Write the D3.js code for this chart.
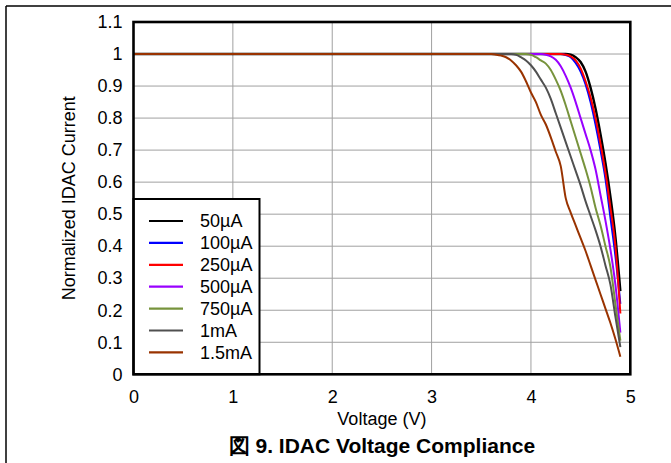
<!DOCTYPE html>
<html>
<head>
<meta charset="utf-8">
<script src="https://cdn.jsdelivr.net/npm/d3@7"></script>
<style>
  html, body { margin: 0; padding: 0; background: #fff; }
  svg { display: block; }
  text { font-family: "Liberation Sans", Arial, sans-serif; fill: #000; }
</style>
</head>
<body>
<svg id="chart" width="671" height="463"></svg>
<script>
// ---- data ----
const volts = [0, 3.6, 3.65, 3.7, 3.75, 3.8, 3.85, 3.9, 3.95, 4.0, 4.05, 4.1, 4.15, 4.2, 4.25, 4.3, 4.35, 4.4, 4.45, 4.5, 4.55, 4.6, 4.65, 4.7, 4.75, 4.8, 4.85, 4.9];

const seriesNames = ["50µA", "100µA", "250µA", "500µA", "750µA", "1mA", "1.5mA"];
const seriesColors = ["#000000", "#0000ff", "#ff0000", "#9900ff", "#77933c", "#505050", "#993300"];

const i50u   = [1, 1, 1, 1, 1, 1, 1, 1, 1, 1, 1, 1, 1, 1, 1, 1, 1, 0.998, 0.99, 0.975, 0.945, 0.895, 0.83, 0.75, 0.66, 0.555, 0.43, 0.26];
const i100u  = [1, 1, 1, 1, 1, 1, 1, 1, 1, 1, 1, 1, 1, 1, 1, 1, 0.997, 0.99, 0.972, 0.945, 0.905, 0.85, 0.78, 0.70, 0.61, 0.49, 0.37, 0.22];
const i250u  = [1, 1, 1, 1, 1, 1, 1, 1, 1, 1, 1, 1, 1, 1, 1, 1, 0.998, 0.993, 0.98, 0.955, 0.915, 0.865, 0.80, 0.72, 0.63, 0.52, 0.40, 0.19];
const i500u  = [1, 1, 1, 1, 1, 1, 1, 1, 1, 1, 1, 1, 0.998, 0.993, 0.982, 0.962, 0.932, 0.895, 0.85, 0.80, 0.75, 0.70, 0.64, 0.56, 0.48, 0.39, 0.28, 0.13];
const i750u  = [1, 1, 1, 1, 1, 1, 1, 1, 1, 0.998, 0.99, 0.98, 0.97, 0.95, 0.92, 0.885, 0.84, 0.79, 0.74, 0.69, 0.64, 0.585, 0.52, 0.465, 0.40, 0.335, 0.22, 0.105];
const i1m    = [1, 1, 1, 1, 1, 1, 0.998, 0.99, 0.98, 0.965, 0.945, 0.92, 0.895, 0.86, 0.815, 0.77, 0.725, 0.68, 0.635, 0.59, 0.54, 0.495, 0.45, 0.40, 0.34, 0.28, 0.18, 0.085];
const i1m5   = [1, 1, 0.998, 0.995, 0.99, 0.98, 0.965, 0.945, 0.915, 0.88, 0.85, 0.81, 0.78, 0.74, 0.695, 0.65, 0.55, 0.505, 0.465, 0.425, 0.385, 0.34, 0.295, 0.25, 0.205, 0.16, 0.11, 0.055];

const seriesValues = [i50u, i100u, i250u, i500u, i750u, i1m, i1m5];

const xTicks = [0, 1, 2, 3, 4, 5];
const yTicks = [0, 0.1, 0.2, 0.3, 0.4, 0.5, 0.6, 0.7, 0.8, 0.9, 1, 1.1];

const xTitle = "Voltage (V)";
const yTitle = "Normalized IDAC Current";
const figTitle = "図 9. IDAC Voltage Compliance";

// ---- layout ----
const svg = d3.select("#chart");
const plot = { left: 133.5, right: 630.3, top: 22, bottom: 374.3 };

const x = d3.scaleLinear().domain([0, 5]).range([plot.left, plot.right]);
const y = d3.scaleLinear().domain([0, 1.1]).range([plot.bottom, plot.top]);

// outer frame (top and left rules)
svg.append("line").attr("x1", 6).attr("x2", 671).attr("y1", 6).attr("y2", 6)
  .attr("stroke", "#000").attr("stroke-width", 1.5);
svg.append("line").attr("x1", 6).attr("x2", 6).attr("y1", 6).attr("y2", 463)
  .attr("stroke", "#000").attr("stroke-width", 1.5);

// gridlines
const grid = svg.append("g");
grid.selectAll("line.h").data(yTicks).join("line")
  .attr("x1", plot.left).attr("x2", plot.right)
  .attr("y1", d => y(d)).attr("y2", d => y(d))
  .attr("stroke", "#a0a0a0").attr("stroke-width", 1);
grid.selectAll("line.v").data(xTicks).join("line")
  .attr("y1", plot.top).attr("y2", plot.bottom)
  .attr("x1", d => x(d)).attr("x2", d => x(d))
  .attr("stroke", "#a0a0a0").attr("stroke-width", 1);

// axes (labels only, via d3 axes)
const fmt = d => d3.format("~g")(+d.toFixed(2));
const xAxis = svg.append("g").attr("transform", `translate(0,${plot.bottom})`)
  .call(d3.axisBottom(x).tickValues(xTicks).tickFormat(fmt).tickSize(0).tickPadding(16));
const yAxis = svg.append("g").attr("transform", `translate(${plot.left},0)`)
  .call(d3.axisLeft(y).tickValues(yTicks).tickFormat(fmt).tickSize(0).tickPadding(11));
[xAxis, yAxis].forEach(a => {
  a.select(".domain").remove();
  a.selectAll("text").attr("font-size", 18).attr("fill", "#000")
    .attr("font-family", '"Liberation Sans", Arial, sans-serif');
});
xAxis.selectAll("text").attr("dy", "0.68em");

// series lines
const line = d3.line()
  .x((d, i) => x(volts[i]))
  .y(d => y(d))
  .curve(d3.curveMonotoneX);

svg.append("g").selectAll("path").data(seriesValues).join("path")
  .attr("d", d => line(d))
  .attr("fill", "none")
  .attr("stroke", (d, i) => seriesColors[i])
  .attr("stroke-width", (d, i) => i === 0 ? 2.4 : 2)
  .attr("stroke-linejoin", "round");

// legend
const leg = { x0: plot.left, x1: 259.5, y0: 199, y1: plot.bottom };
svg.append("rect")
  .attr("x", leg.x0).attr("y", leg.y0)
  .attr("width", leg.x1 - leg.x0).attr("height", leg.y1 - leg.y0)
  .attr("fill", "#fff").attr("stroke", "#000").attr("stroke-width", 2);
const rows = svg.append("g").selectAll("g").data(seriesNames).join("g")
  .attr("transform", (d, i) => `translate(0,${221 + i * 21.9})`);
rows.append("line").attr("x1", 149).attr("x2", 183).attr("y1", 0).attr("y2", 0)
  .attr("stroke", (d, i) => seriesColors[i]).attr("stroke-width", 2.2);
rows.append("text").attr("x", 200).attr("y", 0).attr("dy", "0.35em")
  .attr("font-size", 18).text(d => d);

// plot border
svg.append("rect")
  .attr("x", plot.left).attr("y", plot.top)
  .attr("width", plot.right - plot.left).attr("height", plot.bottom - plot.top)
  .attr("fill", "none").attr("stroke", "#000").attr("stroke-width", 2.6);

// titles
svg.append("text").attr("x", (plot.left + plot.right) / 2).attr("y", 425)
  .attr("text-anchor", "middle").attr("font-size", 18).text(xTitle);
svg.append("text")
  .attr("transform", `translate(75,${(plot.top + plot.bottom) / 2}) rotate(-90)`)
  .attr("text-anchor", "middle").attr("font-size", 18).text(yTitle);
svg.append("text").attr("x", (plot.left + plot.right) / 2).attr("y", 453)
  .attr("text-anchor", "middle").attr("font-size", 21).attr("font-weight", "bold")
  .text(figTitle);
</script>
</body>
</html>
